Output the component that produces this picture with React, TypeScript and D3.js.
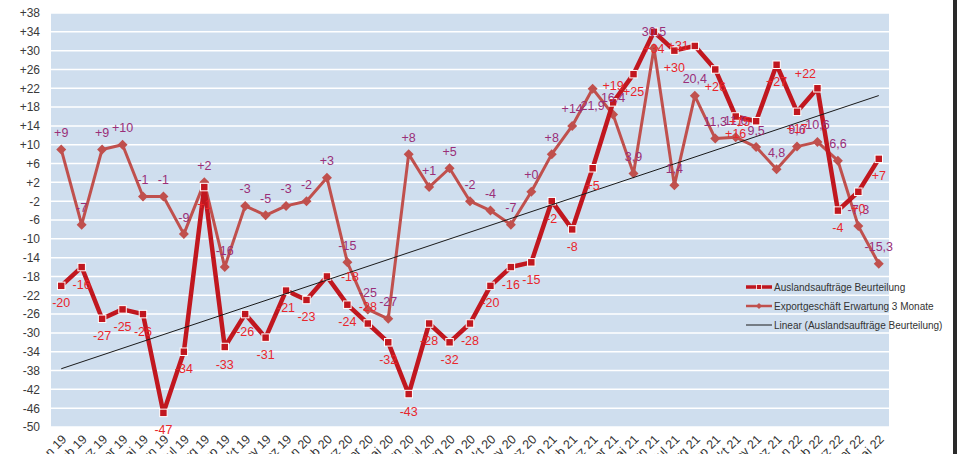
import React from "react";
import * as d3 from "d3";

const months = [
  "Jan 19", "Feb 19", "Mrz 19", "Apr 19", "Mai 19", "Jun 19", "Jul 19", "Aug 19", "Sep 19", "Okt 19", "Nov 19", "Dez 19",
  "Jan 20", "Feb 20", "Mrz 20", "Apr 20", "Mai 20", "Jun 20", "Jul 20", "Aug 20", "Sep 20", "Okt 20", "Nov 20", "Dez 20",
  "Jan 21", "Feb 21", "Mrz 21", "Apr 21", "Mai 21", "Jun 21", "Jul 21", "Aug 21", "Sep 21", "Okt 21", "Nov 21", "Dez 21",
  "Jan 22", "Feb 22", "Mrz 22", "Apr 22", "Mai 22"
];

// Auslandsaufträge Beurteilung
const ausland = [
  -20, -16, -27, -25, -26, -47, -34, 1, -33, -26, -31, -21,
  -23, -18, -24, -28, -32, -43, -28, -32, -28, -20, -16, -15,
  -2, -8, 5, 19, 25, 34, 30, 31, 26, 16, 15, 27,
  17, 22, -4, 0, 7
];

// Exportgeschäft Erwartung 3 Monate
const exportErw = [
  9, -7, 9, 10, -1, -1, -9, 2, -16, -3, -5, -3,
  -2, 3, -15, -25, -27, 8, 1, 5, -2, -4, -7, 0,
  8, 14, 21.9, 16.4, 3.9, 30.5, 1.4, 20.4, 11.3, 11.6, 9.5, 4.8,
  9.6, 10.6, 6.6, -7.3, -15.3
];

const yTicks = [38, 34, 30, 26, 22, 18, 14, 10, 6, 2, -2, -6, -10, -14, -18, -22, -26, -30, -34, -38, -42, -46, -50];

const legendNames = [
  "Auslandsaufträge Beurteilung",
  "Exportgeschäft Erwartung 3 Monate",
  "Linear (Auslandsaufträge Beurteilung)"
];

// label placement overrides (default: red below, purple above)
const auslandLabelPos = { 13: "r", 15: "t", 27: "t", 31: "l", 34: "l", 37: "tl" };
const exportLabelPos = { 26: "b" };

const width = 957;
const height = 454;
const plotLeft = 51;
const plotRight = 889;
const plotTop = 13;
const plotBottom = 427;

const colAusland = "#c1171f";
const colExport = "#c0504d";
const colRedLabel = "#e8262c";
const colPurpleLabel = "#9a2f78";
const font = "'Liberation Sans', Arial, sans-serif";

const signed = (v) => (v < 0 ? "-" + Math.abs(v) : "+" + v);
const exportFmt = (v) => (Number.isInteger(v) ? signed(v) : String(v).replace(".", ","));

export default function App() {
  const svgRef = React.useRef(null);

  React.useEffect(() => {
    const svg = d3.select(svgRef.current);
    svg.selectAll("*").remove();

    const scaleX = d3.scaleBand().domain(months).range([plotLeft, plotRight]);
    const scaleY = d3.scaleLinear().domain([-50, 38]).range([plotBottom, plotTop]);
    const cx = (i) => scaleX(months[i]) + scaleX.bandwidth() / 2;

    svg.append("rect").attr("width", width).attr("height", height).attr("fill", "#fff");
    svg.append("rect")
      .attr("x", plotLeft).attr("y", plotTop)
      .attr("width", plotRight - plotLeft).attr("height", plotBottom - plotTop)
      .attr("fill", "#cfdeee");

    // gridlines + y labels
    svg.selectAll(".grid").data(yTicks).enter().append("line")
      .attr("x1", plotLeft).attr("x2", plotRight)
      .attr("y1", d => scaleY(d)).attr("y2", d => scaleY(d))
      .attr("stroke", "#fff").attr("stroke-width", 1.5);

    svg.selectAll(".ylab").data(yTicks).enter().append("text")
      .attr("x", 40).attr("y", d => scaleY(d)).attr("dy", "0.36em")
      .attr("text-anchor", "end")
      .style("font", `12px ${font}`).attr("fill", "#3a3a3a")
      .text(d => signed(d));

    // x labels (cut by the bottom edge, as in the original)
    svg.selectAll(".xlab").data(months).enter().append("text")
      .attr("transform", (d, i) => `translate(${cx(i) + 6}, 440) rotate(-45)`)
      .attr("text-anchor", "end")
      .style("font", `12.5px ${font}`).attr("fill", "#333")
      .text(d => d);

    // Exportgeschäft line
    const line = d3.line().x((d, i) => cx(i)).y(d => scaleY(d));
    svg.append("path").datum(exportErw).attr("d", line)
      .attr("fill", "none").attr("stroke", colExport).attr("stroke-width", 3)
      .attr("stroke-linejoin", "round");
    svg.selectAll(".dia").data(exportErw).enter().append("path")
      .attr("d", (d, i) => {
        const x = cx(i), y = scaleY(d), r = 5;
        return `M${x},${y - r}L${x + r},${y}L${x},${y + r}L${x - r},${y}Z`;
      })
      .attr("fill", colExport);

    // Auslandsaufträge line
    svg.append("path").datum(ausland).attr("d", line)
      .attr("fill", "none").attr("stroke", colAusland).attr("stroke-width", 4.5)
      .attr("stroke-linejoin", "round");
    svg.selectAll(".sq").data(ausland).enter().append("rect")
      .attr("x", (d, i) => cx(i) - 3.75).attr("y", d => scaleY(d) - 3.75)
      .attr("width", 7.5).attr("height", 7.5)
      .attr("fill", colAusland).attr("stroke", "#fff").attr("stroke-width", 1);

    // Linear trend of Auslandsaufträge
    const n = ausland.length;
    const meanX = d3.mean(d3.range(n));
    const meanY = d3.mean(ausland);
    const slope = d3.sum(ausland, (d, i) => (i - meanX) * (d - meanY)) /
                  d3.sum(ausland, (d, i) => (i - meanX) * (i - meanX));
    const intercept = meanY - slope * meanX;
    svg.append("line")
      .attr("x1", cx(0)).attr("y1", scaleY(intercept))
      .attr("x2", cx(n - 1)).attr("y2", scaleY(intercept + slope * (n - 1)))
      .attr("stroke", "#1a1a1a").attr("stroke-width", 1);

    // data labels
    const drawLabels = (values, fmt, posMap, defPos, color) => {
      values.forEach((v, i) => {
        const pos = posMap[i] || defPos;
        const x = cx(i), y = scaleY(v);
        let tx = x, ty = y, anchor = "middle";
        if (pos === "b") ty = y + 17;
        if (pos === "t") ty = y - 17;
        if (pos === "tl") { tx = x - 12; ty = y - 15; }
        if (pos === "l") { tx = x - 6; anchor = "end"; }
        if (pos === "r") { tx = x + 14; anchor = "start"; }
        svg.append("text")
          .attr("x", tx).attr("y", ty).attr("dy", "0.36em")
          .attr("text-anchor", anchor)
          .style("font", `12.5px ${font}`).attr("fill", color)
          .text(fmt(v));
      });
    };
    drawLabels(exportErw, exportFmt, exportLabelPos, "t", colPurpleLabel);
    drawLabels(ausland, signed, auslandLabelPos, "b", colRedLabel);

    // legend
    const legY = [287, 306, 325];
    const lx0 = 746, lx1 = 772;
    svg.append("line").attr("x1", lx0).attr("x2", lx1).attr("y1", legY[0]).attr("y2", legY[0])
      .attr("stroke", colAusland).attr("stroke-width", 3.5);
    svg.append("rect").attr("x", (lx0 + lx1) / 2 - 2.5).attr("y", legY[0] - 2.5)
      .attr("width", 5).attr("height", 5)
      .attr("fill", colAusland).attr("stroke", "#fff").attr("stroke-width", 0.8);
    svg.append("line").attr("x1", lx0).attr("x2", lx1).attr("y1", legY[1]).attr("y2", legY[1])
      .attr("stroke", colExport).attr("stroke-width", 2.5);
    const mx = (lx0 + lx1) / 2;
    svg.append("path")
      .attr("d", `M${mx},${legY[1] - 3}L${mx + 3},${legY[1]}L${mx},${legY[1] + 3}L${mx - 3},${legY[1]}Z`)
      .attr("fill", colExport);
    svg.append("line").attr("x1", lx0).attr("x2", lx1).attr("y1", legY[2]).attr("y2", legY[2])
      .attr("stroke", "#1a1a1a").attr("stroke-width", 1);
    svg.selectAll(".leg").data(legendNames).enter().append("text")
      .attr("x", 774).attr("y", (d, i) => legY[i]).attr("dy", "0.36em")
      .style("font", `10px ${font}`).attr("fill", "#333")
      .text(d => d);

    // outer frame edge on the right
    svg.append("rect").attr("x", 953).attr("y", 0).attr("width", 4).attr("height", height)
      .attr("fill", "#2a2a2a");
  }, []);

  return (
    <svg ref={svgRef} width={width} height={height}
         style={{ position: "absolute", left: 0, top: 0 }}></svg>
  );
}
